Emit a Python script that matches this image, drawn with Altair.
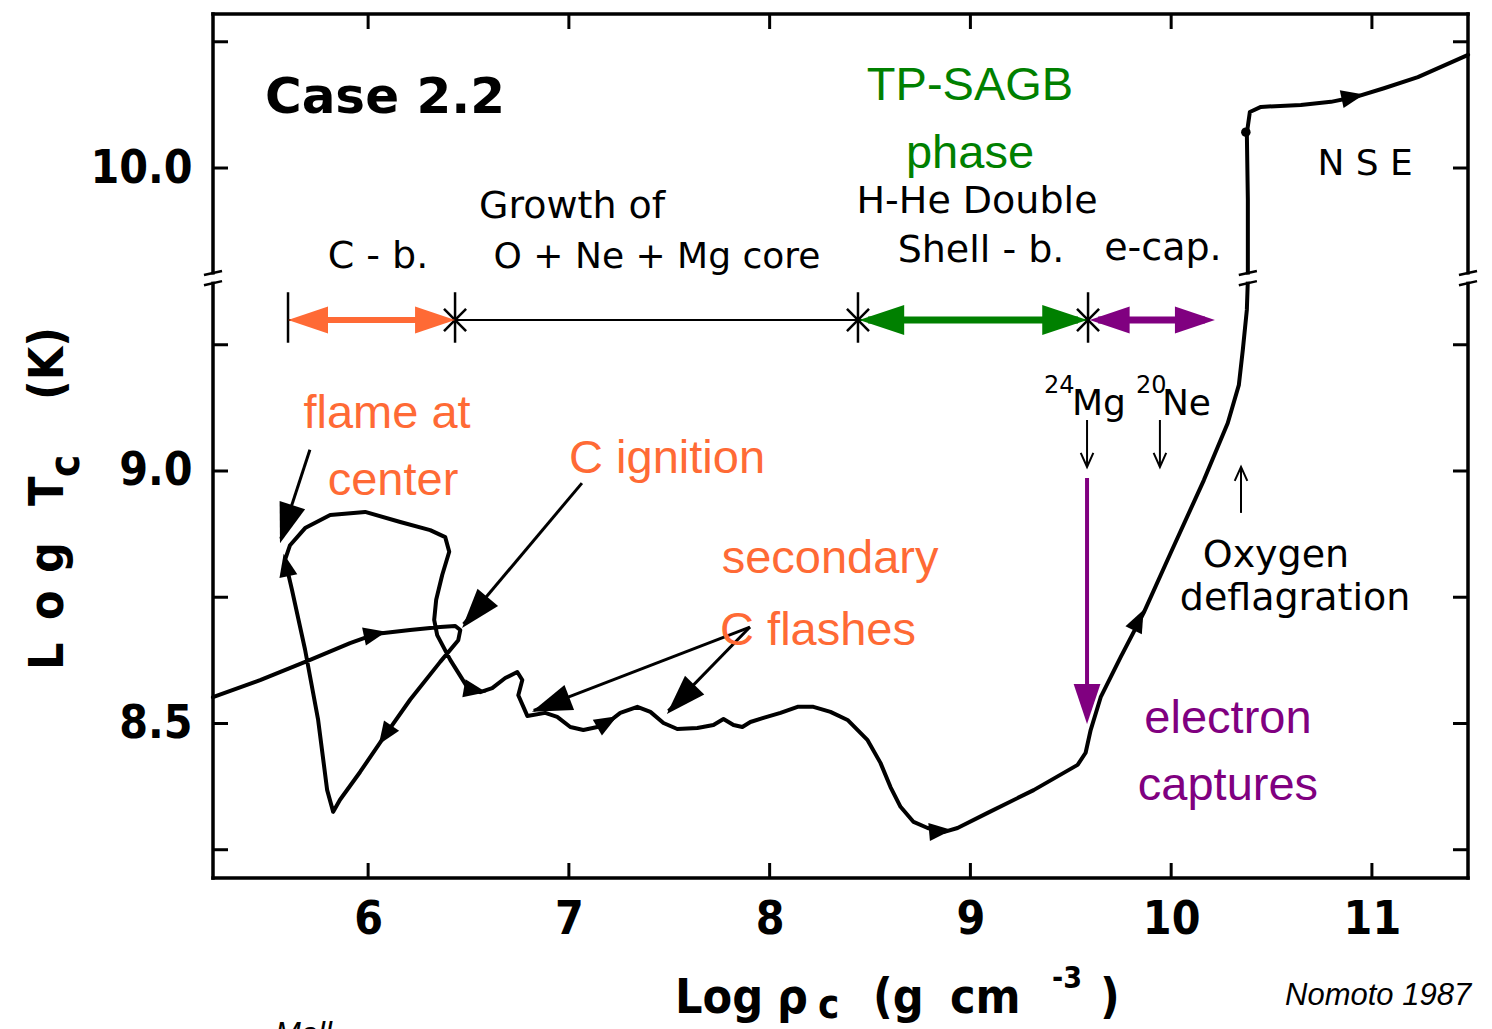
import altair as alt
import pandas as pd

# ---------------------------------------------------------------------------
# Evolution of the stellar centre, in time order:
# log10 rho_c [g cm^-3] and log10 T_c [K]
log_rho_c = [
    5.227, 5.462, 5.711, 5.910, 6.035, 6.209, 6.359, 6.434, 6.459, 6.449,
    6.359, 6.209, 6.085, 5.960, 5.860, 5.826, 5.796, 5.751, 5.686, 5.621,
    5.586, 5.611, 5.686, 5.811, 5.985, 6.160, 6.309, 6.384, 6.404, 6.369,
    6.339, 6.329, 6.344, 6.409, 6.494, 6.558, 6.618, 6.683, 6.743, 6.768,
    6.748, 6.793, 6.882, 6.942, 7.007, 7.072, 7.142, 7.191, 7.256, 7.341,
    7.406, 7.471, 7.540, 7.640, 7.720, 7.770, 7.820, 7.864, 7.904, 7.969,
    8.054, 8.139, 8.218, 8.303, 8.388, 8.488, 8.552, 8.602, 8.652, 8.717,
    8.787, 8.866, 8.936, 9.086, 9.315, 9.534, 9.574, 9.599, 9.649, 9.749,
    9.863, 9.998, 10.163, 10.282, 10.337, 10.357, 10.377, 10.382,
    10.382, 10.382, 10.377, 10.392, 10.447, 10.646, 10.796, 10.920, 11.060,
    11.229, 11.479,
]
log_T_c = [
    8.552, 8.586, 8.626, 8.659, 8.677, 8.685, 8.691, 8.693, 8.685, 8.665,
    8.622, 8.547, 8.477, 8.404, 8.349, 8.325, 8.368, 8.507, 8.646, 8.764,
    8.824, 8.853, 8.887, 8.913, 8.919, 8.899, 8.883, 8.869, 8.840, 8.794,
    8.745, 8.705, 8.675, 8.626, 8.572, 8.562, 8.570, 8.590, 8.602, 8.586,
    8.556, 8.515, 8.521, 8.513, 8.493, 8.487, 8.493, 8.501, 8.521, 8.533,
    8.523, 8.501, 8.489, 8.491, 8.497, 8.509, 8.497, 8.493, 8.503, 8.511,
    8.521, 8.533, 8.533, 8.523, 8.507, 8.467, 8.422, 8.374, 8.335, 8.305,
    8.293, 8.285, 8.293, 8.323, 8.368, 8.418, 8.442, 8.487, 8.552, 8.632,
    8.719, 8.838, 8.982, 9.095, 9.170, 9.240, 9.319, 9.378,
    9.786, 9.937, 10.069, 10.111, 10.121, 10.125, 10.131, 10.141, 10.158,
    10.180, 10.224,
]

# Direction-of-evolution markers on the track (heading in degrees, clockwise from up)
marker_rho = [6.035, 6.085, 5.591, 6.533, 7.191, 8.851, 9.838, 10.905]
marker_T = [8.677, 8.477, 8.814, 8.566, 8.503, 8.287, 8.705, 10.141]
marker_heading = [78, 214, 348, 100, 60, 85, 26, 78]

# Point where the track reaches NSE
nse_rho = [10.372]
nse_T = [10.071]

# Boundaries of the burning phases along log rho_c
phase_edges = [5.601, 6.433, 8.440, 9.586, 10.218]
phase_level = 9.299

# Axis ticks
x_ticks = [6, 7, 8, 9, 10, 11]
y_labels = [8.5, 9.0, 10.0]
y_ticks = [8.25, 8.5, 8.75, 9.0, 9.25, 10.0, 10.25]

# The log T_c axis is cut between these two values
BREAK_LO, BREAK_HI = 9.382, 9.782
GAP = BREAK_HI - BREAK_LO


def axis_T(t):
    """Position of a log T_c value on the broken axis."""
    return t if t <= BREAK_LO else t - GAP


ORANGE = "#FF6A35"
GREEN = "#008000"
PURPLE = "#800080"
SCAN_FONT = "DejaVu Sans"
AXIS_FONT = "DejaVu Sans Condensed, DejaVu Sans"
COLOR_FONT = "Liberation Sans"

W, H = 1255, 864
XS = alt.Scale(domain=[5.2273, 11.4786], nice=False, zero=False)
YS = alt.Scale(domain=[8.194, 9.905], nice=False, zero=False)

x_axis = alt.Axis(
    title="", values=x_ticks, format="d", grid=False, domain=False, ticks=False,
    tickSize=0, labelFont=AXIS_FONT, labelFontSize=46, labelFontWeight="bold",
    labelColor="black", labelPadding=19, labelFlush=False,
)
y_axis = alt.Axis(
    title="", values=[axis_T(v) for v in y_labels],
    labelExpr=f"datum.value > {BREAK_LO} ? format(datum.value + {GAP}, '.1f') : format(datum.value, '.1f')",
    grid=False, domain=False, ticks=False, tickSize=0, labelFont=AXIS_FONT,
    labelFontSize=46, labelFontWeight="bold", labelColor="black",
    labelPadding=21, labelFlush=False,
)


def ex(f="x"):
    return alt.X(f"{f}:Q", scale=XS, axis=x_axis)


def ey(f="y"):
    return alt.Y(f"{f}:Q", scale=YS, axis=y_axis)


def segments(rows, color, width, on_axis=False):
    """Straight strokes between (x, logT) and (x2, logT2).

    With on_axis=True the vertical values are already positions on the
    broken axis and are used as they are.
    """
    df = pd.DataFrame(rows, columns=["x", "t", "x2", "t2"])
    conv = (lambda v: v) if on_axis else axis_T
    df["y"] = df["t"].map(conv)
    df["y2"] = df["t2"].map(conv)
    return alt.Chart(df).mark_rule(color=color, strokeWidth=width, strokeCap="butt").encode(
        x=ex(), y=ey(), x2="x2:Q", y2="y2:Q"
    )


HEAD = "M0,0L0.67,2L-0.67,2Z"      # filled arrow head, tip on the anchor
CHEVRON = "M-0.9,2L0,0L0.9,2"       # open arrow head, tip on the anchor
MARK = "M0,-1L0.8,1L-0.8,1Z"        # small centred triangle


def symbols(rows, shape, color, size, filled=True, width=0):
    df = pd.DataFrame(rows, columns=["x", "t", "a"])
    df["y"] = df["t"].map(axis_T)
    return alt.Chart(df).mark_point(
        shape=shape, filled=filled, size=size, color=color, opacity=1, strokeWidth=width
    ).encode(x=ex(), y=ey(), angle=alt.Angle("a:Q", scale=None))


def labels(rows, font, weight="normal", align="center", style="normal"):
    df = pd.DataFrame(rows, columns=["txt", "x", "t", "s", "c"])
    df["y"] = df["t"].map(axis_T)
    return alt.Chart(df).mark_text(
        font=font, fontWeight=weight, align=align, baseline="alphabetic", fontStyle=style
    ).encode(
        x=ex(), y=ey(), text="txt:N",
        size=alt.Size("s:Q", scale=None, legend=None),
        color=alt.Color("c:N", scale=None, legend=None),
    )


layers = []

# ---- frame and inward ticks ----
frame = pd.DataFrame({"x": [0, 0, 0, W], "x2": [W, W, 0, W], "y": [0, H, 0, 0], "y2": [0, H, H, H]})
for _, r in frame.iterrows():
    layers.append(alt.Chart(pd.DataFrame({"k": [0]})).mark_rule(color="black", strokeWidth=3.5, strokeCap="square").encode(
        x=alt.value(r.x), x2=alt.value(r.x2), y=alt.value(r.y), y2=alt.value(r.y2)))

xt = pd.DataFrame({"x": x_ticks})
yt = pd.DataFrame({"y": [axis_T(v) for v in y_ticks]})
tick = dict(color="black", strokeWidth=3)
layers += [
    alt.Chart(xt).mark_rule(**tick).encode(x=ex(), y=alt.value(H), y2=alt.value(H - 15)),
    alt.Chart(xt).mark_rule(**tick).encode(x=ex(), y=alt.value(0), y2=alt.value(15)),
    alt.Chart(yt).mark_rule(**tick).encode(y=ey(), x=alt.value(0), x2=alt.value(15)),
    alt.Chart(yt).mark_rule(**tick).encode(y=ey(), x=alt.value(W), x2=alt.value(W - 15)),
]

# ---- evolutionary track ----
track = pd.DataFrame({"x": log_rho_c, "y": [axis_T(t) for t in log_T_c], "i": range(len(log_rho_c))})
layers.append(alt.Chart(track).mark_line(color="black", strokeWidth=4, strokeJoin="round", strokeCap="round").encode(
    x=ex(), y=ey(), order=alt.Order("i:Q")))
layers.append(symbols(list(zip(marker_rho, marker_T, marker_heading)), MARK, "black", 520))
nse = pd.DataFrame({"x": nse_rho, "y": [axis_T(t) for t in nse_T]})
layers.append(alt.Chart(nse).mark_circle(size=90, color="black", opacity=1).encode(x=ex(), y=ey()))

# ---- axis-break symbols (left axis, right axis, track), on the axis scale ----
xmin, xmax = XS.domain[0], XS.domain[1]
gaps, strokes = [], []
for xc in [xmin, xmax, 10.382]:
    gaps.append((xc, BREAK_LO - 0.007, xc, BREAK_LO + 0.007))
    strokes.append((xc - 0.045, BREAK_LO + 0.006, xc + 0.045, BREAK_LO + 0.014))
    strokes.append((xc - 0.045, BREAK_LO - 0.014, xc + 0.045, BREAK_LO - 0.006))
layers.append(segments(gaps, "white", 9, on_axis=True))
layers.append(segments(strokes, "black", 2.5, on_axis=True))

# ---- burning phases bar ----
a0, a1, a2, a3, a4 = phase_edges
p = phase_level
layers.append(segments([(a0, p, a3, p)], "black", 2))
layers.append(segments([(a, p - 0.045, a, p + 0.055) for a in [a0, a1, a2, a3]], "black", 2.5))
diag = []
for a in [a1, a2, a3]:
    diag.append((a - 0.055, p - 0.022, a + 0.055, p + 0.022))
    diag.append((a - 0.055, p + 0.022, a + 0.055, p - 0.022))
layers.append(segments(diag, "black", 2.5))
layers.append(segments([(a0 + 0.05, p, a1 - 0.05, p)], ORANGE, 6))
layers.append(symbols([(a0, p, 270), (a1, p, 90)], HEAD, ORANGE, 1600))
layers.append(segments([(a2 + 0.05, p, a3 - 0.05, p)], GREEN, 7))
layers.append(symbols([(a2 + 0.006, p, 270), (a3 - 0.004, p, 90)], HEAD, GREEN, 2025))
layers.append(segments([(a3 + 0.05, p, a4 - 0.05, p)], PURPLE, 7))
layers.append(symbols([(a3 + 0.008, p, 270), (a4, p, 90)], HEAD, PURPLE, 1600))

# ---- pointer arrows ----
layers.append(segments([
    (5.710, 9.042, 5.565, 8.866),
    (7.065, 8.976, 6.475, 8.697),
    (7.902, 8.691, 6.825, 8.526),
    (7.902, 8.691, 7.495, 8.525),
], "black", 3))
layers.append(symbols([
    (5.561, 8.857, 198), (6.468, 8.689, 220), (6.816, 8.523, 249), (7.488, 8.519, 224),
], HEAD, "black", 1600))
layers.append(segments([(9.581, 8.986, 9.581, 8.52)], PURPLE, 4))
layers.append(symbols([(9.581, 8.499, 180)], HEAD, PURPLE, 1600))
layers.append(segments([
    (9.581, 9.101, 9.581, 9.008),
    (9.944, 9.101, 9.944, 9.008),
    (10.348, 8.917, 10.348, 9.008),
], "black", 2))
layers.append(symbols([(9.581, 9.008, 180), (9.944, 9.008, 180), (10.348, 9.008, 0)],
                      CHEVRON, "black", 196, filled=False, width=2))

# ---- annotations ----
layers.append(labels([
    ("Growth  of", 7.016, 9.901, 38, "black"),
    ("C - b.", 6.049, 9.802, 38, "black"),
    ("O + Ne + Mg core", 7.439, 9.802, 36, "black"),
    ("H-He Double", 9.033, 9.911, 38, "black"),
    ("Shell - b.", 9.053, 9.814, 38, "black"),
    ("e-cap.", 9.959, 9.818, 38, "black"),
    ("N S E", 10.966, 9.986, 36, "black"),
    ("Oxygen", 10.522, 8.810, 38, "black"),
    ("deflagration", 10.617, 8.725, 38, "black"),
], SCAN_FONT))
layers.append(labels([
    ("Mg", 9.506, 9.111, 36, "black"),
    ("Ne", 9.954, 9.111, 36, "black"),
    ("24", 9.367, 9.154, 24, "black"),
    ("20", 9.825, 9.154, 24, "black"),
], SCAN_FONT, align="left"))
layers.append(labels([("Case 2.2", 5.486, 10.109, 50, "black")], SCAN_FONT, weight="bold", align="left"))
layers.append(labels([
    ("TP-SAGB", 8.998, 10.135, 47, GREEN),
    ("phase", 8.998, 10.000, 47, GREEN),
    ("flame at", 6.094, 9.085, 47, ORANGE),
    ("center", 6.124, 8.952, 47, ORANGE),
    ("C ignition", 7.489, 8.996, 47, ORANGE),
    ("secondary", 8.301, 8.798, 47, ORANGE),
    ("C flashes", 8.241, 8.655, 47, ORANGE),
    ("electron", 10.283, 8.481, 47, PURPLE),
    ("captures", 10.283, 8.349, 47, PURPLE),
], COLOR_FONT))

# ---- axis titles and credit (placed around the plot area) ----
outer = [
    # text, x, y, size, angle, font, weight, style
    ("L", -150, 656, 48, 270, AXIS_FONT, "bold", "normal"),
    ("o", -150, 606, 48, 270, AXIS_FONT, "bold", "normal"),
    ("g", -150, 559, 48, 270, AXIS_FONT, "bold", "normal"),
    ("T", -150, 492, 48, 270, AXIS_FONT, "bold", "normal"),
    ("c", -134, 463, 42, 270, AXIS_FONT, "bold", "normal"),
    ("(K)", -150, 386, 48, 270, AXIS_FONT, "bold", "normal"),
    ("Log", 462, 999, 48, 0, AXIS_FONT, "bold", "normal"),
    ("\u03c1", 564, 999, 48, 0, AXIS_FONT, "bold", "normal"),
    ("c", 605, 1004, 40, 0, AXIS_FONT, "bold", "normal"),
    ("(g", 660, 999, 48, 0, AXIS_FONT, "bold", "normal"),
    ("cm", 737, 999, 48, 0, AXIS_FONT, "bold", "normal"),
    ("-3", 839, 974, 30, 0, AXIS_FONT, "bold", "normal"),
    (")", 887, 999, 48, 0, AXIS_FONT, "bold", "normal"),
    ("Nomoto 1987", 1072, 991, 31, 0, COLOR_FONT, "normal", "italic"),
    ("Mall", 62, 1030, 31, 0, COLOR_FONT, "normal", "italic"),
]
for txt, px, py, size, ang, font, weight, style in outer:
    layers.append(alt.Chart(pd.DataFrame({"txt": [txt]})).mark_text(
        font=font, fontSize=size, fontWeight=weight, fontStyle=style, angle=ang,
        align="left", baseline="alphabetic", color="black",
    ).encode(x=alt.value(px), y=alt.value(py), text="txt:N"))

chart = alt.layer(*layers).properties(
    width=W, height=H,
    padding={"left": 213, "top": 14, "right": 24, "bottom": 151},
    autosize=alt.AutoSizeParams(type="none"),
    background="white",
).configure_view(strokeWidth=0)

chart.save("out.html", embed_options={"renderer": "svg", "actions": False})
